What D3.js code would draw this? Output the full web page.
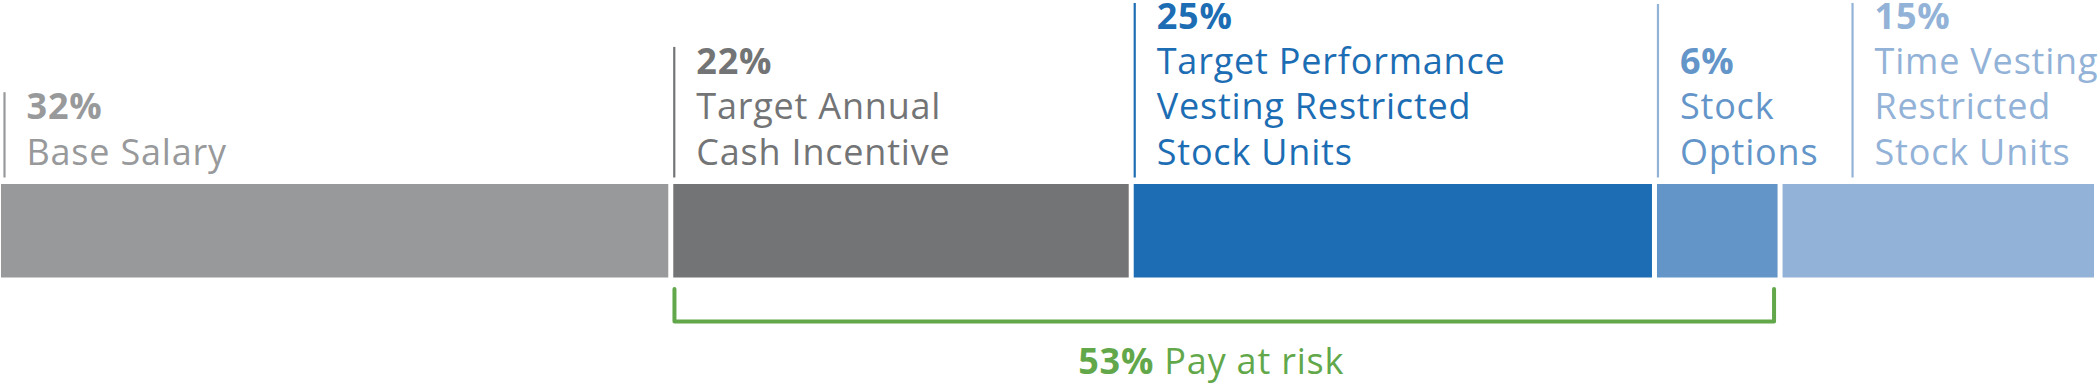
<!DOCTYPE html>
<html>
<head>
<meta charset="utf-8">
<script src="https://cdn.jsdelivr.net/npm/d3@7"></script>
<style>
  body { margin: 0; background: #fff; }
  text { font-family: "Open Sans", "Noto Sans", sans-serif; }
</style>
</head>
<body>
<script>
  var w = 2099;
  var h = 386;

  // pay mix data
  var categories = ["Base Salary", "Target Annual Cash Incentive",
                    "Target Performance Vesting Restricted Stock Units",
                    "Stock Options", "Time Vesting Restricted Stock Units"];
  var labelLines = [["Base Salary"],
                    ["Target Annual", "Cash Incentive"],
                    ["Target Performance", "Vesting Restricted", "Stock Units"],
                    ["Stock", "Options"],
                    ["Time Vesting", "Restricted", "Stock Units"]];
  var shares = [32, 22, 25, 6, 15];
  var colors = ["#98999b", "#737476", "#1c6db3", "#6495c9", "#93b2d7"];
  var ruleColors = ["#98999b", "#737476", "#1c6db3", "#93b2d7", "#93b2d7"];
  var atRisk = [1, 2, 3];   // indexes of the at-risk pieces
  var atRiskLabel = "Pay at risk";

  var ends = d3.cumsum(shares);
  var starts = ends.map(function(e, i){ return e - shares[i]; });

  var x = d3.scaleLinear().domain([0, 100]).range([1, 2094]);
  var gap = 2.5;
  var barTop = 184, barH = 93.5;
  var lineGap = 45.3, lastBase = 164.5;
  var fs = "36px", ls = "0.8px";

  var svg = d3.select("body").append("svg")
              .attr("width", w)
              .attr("height", h);

  svg.selectAll("rect.bar")
     .data(shares)
     .enter()
     .append("rect")
     .attr("class", "bar")
     .attr("x", function(d, i){ return x(starts[i]) + (i == 0 ? 0 : gap); })
     .attr("y", barTop)
     .attr("width", function(d, i){
       return x(ends[i]) - x(starts[i]) - (i == 0 ? gap : 2 * gap) + (i == shares.length - 1 ? gap : 0);
     })
     .attr("height", barH)
     .attr("fill", function(d, i){ return colors[i]; });

  // labels: the last one is pushed right so it doesn't collide with "Stock Options"
  var labels = svg.selectAll("g.label")
     .data(shares)
     .enter()
     .append("g")
     .attr("class", "label")
     .attr("transform", function(d, i){
       var lx = x(starts[i]) + gap + 1 + (i == shares.length - 1 ? 69 : 0);
       return "translate(" + lx + ",0)";
     });

  labels.append("line")
     .attr("x1", 0).attr("x2", 0)
     .attr("y1", function(d, i){
       var first = lastBase - labelLines[i].length * lineGap;
       return i == 3 ? 4 : Math.max(3, first - 27);
     })
     .attr("y2", 177.5)
     .attr("stroke", function(d, i){ return ruleColors[i]; })
     .attr("stroke-width", 2.2);

  labels.append("text")
     .attr("x", 22)
     .attr("y", function(d, i){ return lastBase - labelLines[i].length * lineGap; })
     .attr("fill", function(d, i){ return colors[i]; })
     .attr("font-size", fs)
     .attr("letter-spacing", ls)
     .attr("font-weight", 700)
     .text(function(d){ return d + "%"; });

  labels.each(function(d, i){
    d3.select(this).selectAll("text.name")
      .data(labelLines[i])
      .enter()
      .append("text")
      .attr("class", "name")
      .attr("x", 22)
      .attr("y", function(s, j){ return lastBase - (labelLines[i].length - 1 - j) * lineGap; })
      .attr("fill", colors[i])
      .attr("font-size", fs)
      .attr("letter-spacing", ls)
      .text(function(s){ return s; });
  });

  // pay at risk bracket
  var bx0 = x(starts[atRisk[0]]) + 3.7;
  var bx1 = x(ends[atRisk[atRisk.length - 1]]) - 6;
  var green = "#62a84b";
  svg.append("path")
     .attr("d", "M" + bx0 + ",289 V321.5 H" + bx1 + " V289")
     .attr("fill", "none")
     .attr("stroke", green)
     .attr("stroke-width", 4)
     .attr("stroke-linecap", "round")
     .attr("stroke-linejoin", "round");

  var riskTotal = d3.sum(atRisk, function(i){ return shares[i]; });
  var rt = svg.append("text")
     .attr("x", (bx0 + bx1) / 2 - 13)
     .attr("y", 374)
     .attr("text-anchor", "middle")
     .attr("fill", green)
     .attr("font-size", fs)
     .attr("letter-spacing", ls);
  rt.append("tspan").attr("font-weight", 700).text(riskTotal + "%");
  rt.append("tspan").text(" " + atRiskLabel);
</script>
</body>
</html>
